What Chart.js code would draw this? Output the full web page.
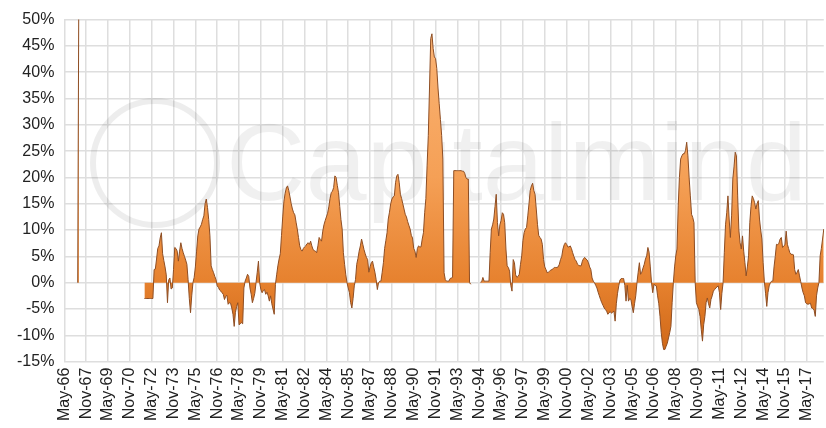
<!DOCTYPE html>
<html>
<head>
<meta charset="utf-8">
<script src="https://cdn.jsdelivr.net/npm/chart.js@4.4.1/dist/chart.umd.min.js"></script>
<style>
  html, body { margin: 0; padding: 0; background: #fff; overflow: hidden; }
  #wrap { width: 832px; height: 428px; }
</style>
</head>
<body>
<div id="wrap"><canvas id="graphic"></canvas></div>
<script>
// monthly values in %, each row runs May..Apr
var ret1966to1972 = [
    null, null, null, null, null, null, null, null, null, null, null, 0,
    60, null, null, null, null, null, null, null, null, null, null, null,
    null, null, null, null, null, null, null, null, null, null, null, null,
    null, null, null, null, null, null, null, null, null, null, null, null,
    null, null, null, null, null, null, null, null, null, null, null, null,
    null, null, null, null, null, null, -3, -3, -3, -3, -3, -3
];
var ret1972to1978 = [
    -3, -3, 2.5, 2.6, 4.5, 6.5, 7.0, 8.5, 9.5, 5.5, 4.2, 3.0,
    1.5, -3.8, 0.5, 0.9, -1.2, -1.0, 2.5, 6.7, 6.5, 6.0, 4.1, 6.0,
    7.6, 6.5, 5.7, 5.0, 4.3, 3.5, 0.6, -3.0, -5.7, -2.5, 0.0, 1.0,
    3.0, 6.0, 8.9, 10.2, 10.6, 11.1, 12.0, 12.7, 15.0, 15.9, 14.3, 12.0,
    8.9, 3.2, 2.5, 1.9, 1.2, 0.6, -0.6, -0.9, -1.4, -1.6, -1.9, -2.2,
    -3.2, -2.6, -2.4, -4.1, -3.8, -3.9, -4.8, -6.0, -8.3, -5.7, -4.5, -3.8
];
var ret1978to1984 = [
    -8.0, -7.8, -7.6, -7.8, -1.0, 0.3, 0.9, 1.6, 1.2, -1.0, -2.2, -3.8,
    -3.0, -2.0, 0.0, 2.0, 4.1, 0.0, -1.3, -1.9, -1.5, -1.3, -2.2, -1.8,
    -2.5, -3.5, -2.5, -4.0, -5.0, -6.0, -0.3, 1.5, 3.2, 4.5, 5.5, 9.0,
    12.5, 15.5, 17.0, 18.0, 18.4, 17.5, 16.3, 15.0, 14.0, 13.3, 12.9, 11.5,
    10.2, 8.6, 7.0, 6.3, 6.0, 6.5, 6.8, 7.0, 7.4, 7.6, 7.3, 7.9,
    7.0, 6.3, 6.1, 6.0, 5.7, 7.0, 8.6, 8.2, 7.9, 9.8, 11.0, 11.8
];
var ret1984to1990 = [
    12.5, 13.2, 14.4, 16.0, 17.1, 17.4, 18.1, 20.3, 20.0, 18.5, 17.1, 14.5,
    12.0, 10.2, 5.7, 3.5, 1.5, 0.0, -1.0, -1.9, -3.8, -4.8, -3.0, -0.6,
    0.6, 3.5, 4.6, 6.0, 7.0, 8.3, 7.3, 6.3, 5.5, 4.8, 4.4, 2.0,
    3.0, 3.8, 4.1, 3.0, 2.0, 0.6, -1.3, 0.0, 0.3, 0.3, 2.0, 3.8,
    6.5, 8.0, 9.5, 12.1, 13.4, 15.0, 15.9, 16.3, 16.5, 19.0, 20.3, 20.6,
    19.1, 16.8, 16.0, 15.0, 14.0, 13.0, 12.5, 11.6, 10.9, 10.2, 9.0, 8.5
];
var ret1990to1996 = [
    6.5, 6.0, 4.8, 6.5, 7.0, 6.8, 6.8, 8.3, 9.5, 13.3, 16.0, 22.2,
    28.0, 37.0, 46.4, 47.3, 44.5, 42.9, 42.6, 40.7, 37.0, 34.0, 31.0, 28.0,
    23.5, 1.9, 0.6, 0.3, 0.3, 0.3, 0.8, 0.9, 1.0, 21.3, 21.3, 21.3,
    21.3, 21.3, 21.3, 21.3, 21.2, 21.2, 20.8, 20.0, 19.7, 19.7, 0.0, -0.3,
    null, null, null, null, null, 0.0, null, 0.1, 0.2, 1.0, 0.3, 0.3,
    0.3, 0.3, 0.3, 5.7, 10.2, 11.0, 12.1, 14.5, 16.8, 11.4, 8.9, 11.0
];
var ret1996to2002 = [
    11.8, 13.3, 13.0, 11.4, 6.4, 3.2, 2.9, 2.2, -0.5, -1.6, 4.4, 3.8,
    1.5, 1.0, 1.2, 1.6, 3.5, 5.1, 8.0, 9.5, 10.2, 10.5, 12.7, 15.0,
    17.5, 18.4, 18.9, 17.5, 16.8, 14.0, 11.1, 9.0, 8.6, 8.3, 7.3, 4.4,
    3.0, 2.5, 1.9, 2.0, 2.2, 2.4, 2.5, 2.7, 2.9, 2.9, 2.9, 3.0,
    3.5, 4.4, 5.0, 6.4, 7.2, 7.6, 7.3, 6.8, 6.8, 7.0, 6.5, 5.7,
    5.0, 4.4, 4.1, 3.5, 3.3, 3.2, 3.2, 4.1, 4.6, 4.8, 4.5, 4.3
];
var ret2002to2008 = [
    3.8, 3.0, 2.5, 0.9, 0.3, 0.0, -0.5, -1.0, -1.8, -2.5, -3.2, -3.8,
    -4.3, -4.8, -5.1, -5.4, -6.0, -5.7, -5.5, -5.8, -5.6, -5.4, -7.3, -4.0,
    -2.0, -0.6, 0.5, 0.8, 0.8, 0.8, -0.5, -3.5, -0.5, -3.5, -3.0, -3.2,
    -4.5, -5.7, -4.0, -2.5, 0.0, 2.0, 3.8, 1.6, 2.0, 2.8, 3.5, 4.5,
    5.1, 6.7, 5.8, 3.0, 0.0, -1.9, -0.3, -0.5, -0.6, -2.5, -4.0, -6.4,
    -9.5, -11.5, -12.7, -12.7, -12.1, -11.5, -10.5, -9.5, -8.3, -3.8, 0.0, 3.0
];
var ret2008to2014 = [
    5.1, 6.4, 14.6, 20.0, 23.5, 24.1, 24.5, 24.5, 25.1, 26.7, 24.1, 20.0,
    16.5, 13.0, 12.4, 11.4, 0.0, -3.8, -4.5, -5.1, -6.4, -8.9, -11.1, -8.0,
    -6.4, -3.8, -2.9, -4.0, -4.8, -3.2, -2.5, -1.6, -1.3, -1.0, -0.8, -0.6,
    -1.9, -5.1, -2.0, 0.0, 5.7, 11.0, 13.3, 16.5, 12.1, 8.6, 12.7, 19.7,
    22.0, 24.8, 24.1, 16.5, 10.0, 7.6, 6.4, 8.9, 6.0, 3.8, 1.3, 3.0,
    5.1, 11.4, 14.5, 16.5, 16.0, 15.2, 14.0, 15.0, 15.6, 12.1, 10.0, 8.3
];
var ret2014to2018 = [
    3.8, 0.3, -2.0, -4.5, -1.9, -0.6, 0.0, 0.3, 0.3, 3.0, 5.0, 7.3,
    7.2, 7.5, 8.3, 8.6, 6.7, 7.0, 7.2, 9.8, 7.3, 6.5, 5.7, 5.4,
    5.4, 5.3, 2.5, 1.6, 2.0, 2.5, 1.3, 0.2, -1.0, -1.9, -2.5, -3.8,
    -4.0, -4.1, -4.0, -3.9, -4.8, -4.9, -5.2, -6.4, -2.5, -1.0, 0.0, 5.1,
    6.5, 8.3, 10.2
];

var returns = [].concat(ret1966to1972, ret1972to1978, ret1978to1984, ret1984to1990,
    ret1990to1996, ret1996to2002, ret2002to2008, ret2008to2014, ret2014to2018);

var monthNames = ['Jan', 'Feb', 'Mar', 'Apr', 'May', 'Jun', 'Jul', 'Aug', 'Sep', 'Oct', 'Nov', 'Dec'];
var yTicks = [-15, -10, -5, 0, 5, 10, 15, 20, 25, 30, 35, 40, 45, 50];
var labelEvery = 18;

// May-66, Jun-66, ...
var months = [];
for (var i = 0; i < returns.length; i++) {
    var k = 4 + i;
    var yy = (66 + Math.floor(k / 12)) % 100;
    months.push(monthNames[k % 12] + '-' + (yy < 10 ? '0' + yy : '' + yy));
}

var watermark = {
    id: 'watermark',
    beforeDatasetsDraw: function (chart) {
        var c = chart.ctx;
        c.save();
        c.strokeStyle = 'rgba(0,0,0,0.07)';
        c.lineWidth = 6;
        c.beginPath();
        c.arc(155, 163, 62, 0, Math.PI * 2);
        c.stroke();
        c.fillStyle = 'rgba(0,0,0,0.06)';
        c.font = '110px "Liberation Sans", Arial, sans-serif';
        c.textBaseline = 'alphabetic';
        c.fillText('Capitalmind', 226, 200);
        c.restore();
    }
};

var ctx = document.getElementById('graphic').getContext('2d');

var graphic = new Chart(ctx, {
    type: 'line',
    data: {
        labels: months,
        datasets: [{
            data: returns,
            borderColor: '#8e4e24',
            borderWidth: 1,
            pointRadius: 0,
            tension: 0,
            fill: 'origin',
            backgroundColor: function (context) {
                var area = context.chart.chartArea;
                if (!area) return '#e8832f';
                var g = context.chart.ctx.createLinearGradient(0, area.top, 0, area.bottom);
                g.addColorStop(0, '#fbb577');
                g.addColorStop(0.46, '#f5a056');
                g.addColorStop(0.77, '#e6812e');
                g.addColorStop(1, '#cc6414');
                return g;
            }
        }]
    },
    options: {
        responsive: true,
        maintainAspectRatio: false,
        animation: false,
        layout: { padding: { left: 7, top: 16, right: 0, bottom: 1 } },
        plugins: {
            legend: { display: false },
            tooltip: { enabled: false }
        },
        scales: {
            x: {
                grid: {
                    color: '#dedede',
                    lineWidth: 1.5,
                    drawTicks: false
                },
                border: { display: false },
                ticks: {
                    autoSkip: false,
                    minRotation: 90,
                    maxRotation: 90,
                    padding: 6,
                    color: '#222',
                    font: { family: '"Liberation Sans", Arial, sans-serif', size: 16 },
                    callback: function (val, idx) {
                        return idx % labelEvery === 0 ? months[idx] : null;
                    }
                }
            },
            y: {
                min: yTicks[0],
                max: yTicks[yTicks.length - 1],
                grid: {
                    color: '#dedede',
                    lineWidth: 1.5,
                    drawTicks: false
                },
                border: { display: false },
                afterBuildTicks: function (axis) {
                    axis.ticks = yTicks.map(function (v) { return { value: v }; });
                },
                ticks: {
                    padding: 10,
                    color: '#222',
                    font: { family: '"Liberation Sans", Arial, sans-serif', size: 16 },
                    callback: function (v) { return v + '%'; }
                }
            }
        }
    },
    plugins: [watermark]
});
</script>
</body>
</html>
